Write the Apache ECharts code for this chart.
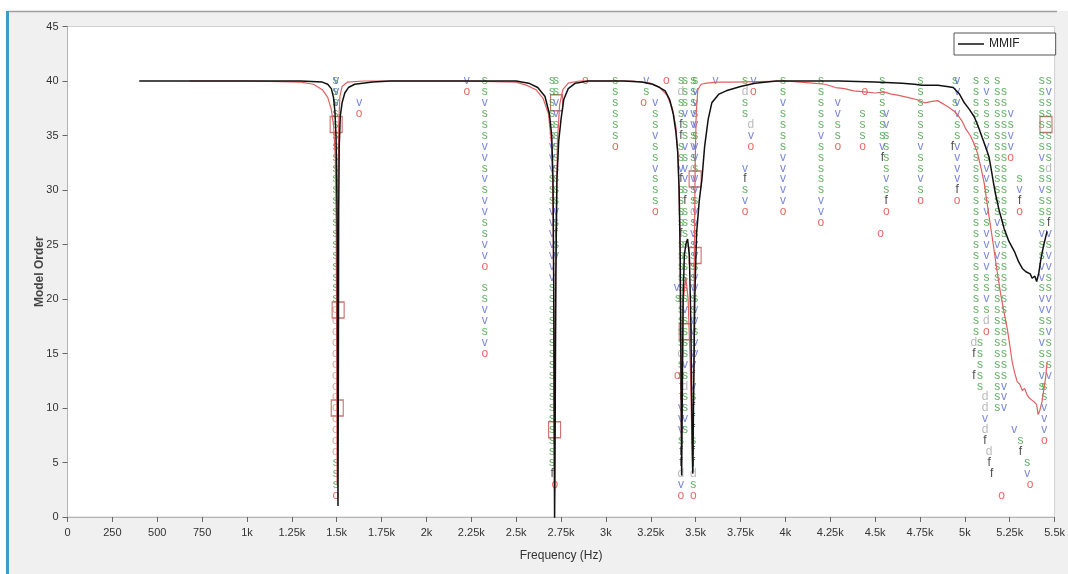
<!DOCTYPE html>
<html><head><meta charset="utf-8">
<script src="https://cdn.jsdelivr.net/npm/echarts@6/dist/echarts.min.js"></script>
<style>html,body{margin:0;padding:0;background:#fff}#c{width:1068px;height:574px}</style>
</head><body><div id="c"></div>
<script>
// ---------- data ----------
const FONT = "'Liberation Sans Narrow','Liberation Sans',sans-serif";

// MMIF curve (black) : [frequency Hz, model-order axis value]
const mmifCurve = [[400,40],[700,40],[1000,40],[1300,40],[1420,39.9],[1450,39.7],[1470,39.3],[1482,38.5],[1490,37.2],[1496,35],[1500,31],[1503,25],[1505,12],[1507,1],[1509,12],[1511,28],[1514,34],[1520,36.8],[1530,38],[1545,38.9],[1565,39.4],[1600,39.7],[1700,39.9],[1800,40],[2200,40],[2500,40],[2570,39.8],[2620,39.4],[2660,38.6],[2685,37],[2698,35],[2705,31],[2709,22],[2712,8],[2714,-0.3],[2717,8],[2721,22],[2727,31],[2737,34.5],[2750,36.5],[2765,38.3],[2790,39.3],[2830,39.8],[2900,40],[3100,40],[3200,39.9],[3260,39.7],[3300,39.4],[3330,39.1],[3355,38.3],[3375,37],[3390,35.3],[3400,33.5],[3408,30],[3414,24],[3419,12],[3422,3.8],[3425,10],[3430,20],[3437,24],[3445,25],[3455,25.5],[3465,24],[3473,18],[3480,8],[3484,4],[3488,10],[3495,20],[3505,26],[3520,29],[3535,31],[3550,34],[3570,36.5],[3590,38],[3630,38.8],[3670,39.1],[3750,39.5],[3830,39.8],[3950,40],[4300,40],[4500,39.9],[4650,39.8],[4720,39.7],[4760,39.6],[4850,39.6],[4900,39.5],[4935,39.4],[4970,38.8],[4997,38],[5025,37.4],[5053,36.7],[5075,35.8],[5097,34.8],[5115,34],[5135,33],[5150,31.6],[5160,30.6],[5170,29.7],[5190,28.2],[5205,27.3],[5218,26.5],[5245,25.3],[5275,24.4],[5300,23.4],[5320,22.8],[5340,22.5],[5364,22.3],[5375,21.9],[5390,22.1],[5400,21.6],[5412,22.4],[5425,23.8],[5440,25],[5458,26.2]];

// second indicator curve (red)
const redCurve = [[680,40],[1000,40],[1300,39.9],[1370,39.7],[1420,39.2],[1450,38.5],[1470,37.4],[1483,35.8],[1492,33],[1497,27],[1500,15],[1502,3],[1504,14],[1507,30],[1511,36],[1518,38.6],[1530,39.5],[1560,39.9],[1650,40],[2200,40],[2500,39.9],[2560,39.6],[2610,39.2],[2650,38.4],[2680,37],[2698,34],[2706,28],[2711,14],[2714,2],[2717,12],[2722,27],[2730,34.5],[2742,37.8],[2760,39.2],[2790,39.8],[2850,40],[3150,40],[3250,39.8],[3300,39.4],[3340,38.7],[3370,37.5],[3390,35.8],[3402,33],[3411,27],[3417,17],[3421,7],[3425,13],[3432,20],[3445,22],[3458,20],[3470,14],[3478,8],[3483,4],[3487,9],[3492,22],[3497,32],[3503,37],[3512,39.2],[3530,39.7],[3560,39.8],[3620,39.9],[3700,39.9],[4000,40],[4150,39.8],[4220,39.7],[4280,39.4],[4330,39.3],[4380,39.1],[4441,39],[4500,38.9],[4550,39],[4590,38.8],[4625,38.7],[4680,38.5],[4730,38.3],[4775,38.0],[4810,38.1],[4847,38.2],[4880,37.9],[4910,37.6],[4935,37.3],[4960,36.9],[4985,36.3],[5005,35.6],[5030,35],[5050,34.3],[5070,33.4],[5090,32],[5108,30.6],[5122,29],[5140,27],[5160,24.8],[5180,22.5],[5200,20.4],[5218,18.8],[5236,17.3],[5250,15.8],[5264,14.2],[5278,13.2],[5292,12.4],[5305,12.2],[5320,11.6],[5333,11.8],[5347,11.2],[5360,10.9],[5375,10.7],[5390,10.5],[5400,10.3],[5408,9.4],[5418,9.8],[5430,10.6],[5440,11.7],[5450,12.8],[5458,14.2]];

// stabilization columns: [frequency, top model order, symbols from top order downward ('.' = none)]
const stabColumns = [
  [1493,40,"sssssssssssssssssssss"],
  [1497,40,"vvv"],
  [1493,19,"qqqqqqqqqqqqqq"],
  [1495,5,"ssso"],
  [1625,38,"vo"],
  [2225,40,"vo"],
  [2325,40,"ssvsssvvsvsvvssvvo"],
  [2325,21,"ssvvsvo"],
  [2700,40,"ssssssvvvsssvvvvvvvsssssssssssssssssf"],
  [2722,40,"ssvvssssssssvsfsv"],
  [2716,3,"o"],
  [2886,40,"o"],
  [3052,40,"sssssso"],
  [3225,40,"vs"],
  [3210,38,"o"],
  [3275,38,"vssvssvssso"],
  [3337,40,"o"],
  [3418,40,"sdssffssvfssssfssssssssssdssffvvvsffdvo"],
  [3440,40,"sssvssvsvvsfsssssssssvssssvsdssvs"],
  [3487,40,"sssvvsvsdvssdsvssssvssvvsvvfvsfffsffdso"],
  [3498,40,"svvsvsvvsvvsvvsvvsvvsvvsvv"],
  [3395,21,"v"],
  [3402,20,"s"],
  [3398,13,"o"],
  [3610,40,"v"],
  [3775,40,"sdss"],
  [3808,36,"dvo"],
  [3822,40,"vo"],
  [3775,32,"vfsvo"],
  [3987,40,"ssvssssvvvvvo"],
  [4198,40,"sssssvsssssvvo"],
  [4292,38,"vvsso"],
  [4442,39,"o"],
  [4430,37,"ssso"],
  [4540,40,"ssssssvf"],
  [4562,37,"vvssssvsfo"],
  [4530,26,"o"],
  [4753,40,"ssssssvssvso"],
  [4945,40,"s.s"],
  [4957,40,"vvvvssvvvvfo"],
  [4930,34,"f"],
  [5062,40,"ssssssssssssssssssssssss"],
  [5120,40,"svssssvsvvssvsvvvvssvsdo"],
  [5180,40,"sssssssssssssvsvvssssssssssssss"],
  [5218,39,"sssssssssssssssssssssssssssvvv"],
  [5255,37,"vsvvo"],
  [5305,31,"svfo"],
  [5050,16,"df.f"],
  [5084,16,"sssss"],
  [5112,11,"ddvdf"],
  [5135,6,"df"],
  [5150,4,"f"],
  [5205,2,"o"],
  [5275,8,"v"],
  [5310,7,"sf"],
  [5347,5,"sv"],
  [5364,3,"o"],
  [5428,40,"sssssssvssvsssvssvvsvvssvssvs"],
  [5467,40,"svssssssdssssfvsvvssvvsvsssv"],
  [5443,12,"ssvvvo"]
];

// highlighted (boxed) poles: [frequency, model order]
const selectedPoles = [[1497,36],[1508,19],[1503,10],[2725,38],[2714,8],[3442,17],[3497,31],[3497,24],[5452,36]];

const symbolText  = {s:'s', v:'v', o:'o', d:'d', f:'f', q:'o'};
const symbolColor = {s:'#3a9a3a', v:'#5a6cd0', o:'#e2463f', d:'#a9a9a9', f:'#1c1c1c', q:'#cf9a86'};

// ---------- build ----------
const buckets = {};
stabColumns.forEach(([f, top, str]) => {
  for (let i = 0; i < str.length; i++) {
    const ch = str[i];
    if (ch === '.') continue;
    (buckets[ch] = buckets[ch] || []).push([f, top - i]);
  }
});
const letterSeries = Object.keys(buckets).map(k => ({
  type: 'scatter', name: 'sym_' + k, data: buckets[k], symbolSize: 1,
  itemStyle: { color: 'rgba(0,0,0,0)' }, silent: true,
  label: { show: true, position: 'inside', formatter: () => symbolText[k],
           color: symbolColor[k], fontSize: 12, fontFamily: FONT }
}));

const chart = echarts.init(document.getElementById('c'), null, { renderer: 'canvas' });
chart.setOption({
  animation: false,
  backgroundColor: '#f0f0f0',
  graphic: [
    { type: 'rect', shape: { x: 0, y: 0, width: 1068, height: 11 }, style: { fill: '#ffffff' }, silent: true },
    { type: 'rect', shape: { x: 0, y: 0, width: 6, height: 574 }, style: { fill: '#ffffff' }, silent: true },
    { type: 'line', shape: { x1: 8, y1: 11.5, x2: 1057, y2: 11.5 }, style: { stroke: '#a0a0a0', lineWidth: 1.5 }, silent: true },
    { type: 'line', shape: { x1: 7.5, y1: 11, x2: 7.5, y2: 574 }, style: { stroke: '#3d9cc4', lineWidth: 3 }, silent: true }
  ],
  grid: { left: 67.5, right: 10.5, top: 26.5, bottom: 57, show: true, backgroundColor: '#ffffff', borderColor: '#d0d0d0', borderWidth: 1 },
  legend: {
    data: [{ name: 'MMIF', icon: 'rect' }], left: 954, top: 33,
    padding: [5, 36, 5, 4], itemWidth: 26, itemHeight: 1.5,
    backgroundColor: '#ffffff', borderColor: '#555555', borderWidth: 1, borderRadius: 0,
    textStyle: { fontSize: 12, color: '#222', fontFamily: FONT }
  },
  xAxis: {
    type: 'value', min: 0, max: 5500, interval: 250,
    name: 'Frequency (Hz)', nameLocation: 'middle', nameGap: 33,
    nameTextStyle: { fontSize: 12, color: '#333', fontFamily: FONT },
    axisLine: { show: true, lineStyle: { color: '#b4b4b4' } },
    axisTick: { show: true, length: 5, lineStyle: { color: '#666' } },
    axisLabel: { fontSize: 11, color: '#333', margin: 10, fontFamily: FONT,
      formatter: v => v < 1000 ? String(v) : (v / 1000) + 'k' },
    splitLine: { show: false }
  },
  yAxis: {
    type: 'value', min: 0, max: 45, interval: 5,
    name: 'Model Order', nameLocation: 'middle', nameGap: 22, nameMoveOverlap: false,
    nameTextStyle: { fontSize: 12, color: '#444', fontWeight: 'bold', fontFamily: FONT },
    axisLine: { show: true, lineStyle: { color: '#b4b4b4' } },
    axisTick: { show: true, length: 5, lineStyle: { color: '#666' } },
    axisLabel: { fontSize: 11, color: '#333', margin: 9, fontFamily: FONT },
    splitLine: { show: false }
  },
  series: letterSeries.concat([
    { type: 'line', name: 'red', data: redCurve, showSymbol: false, symbol: 'none',
      lineStyle: { color: '#e06060', width: 1.2 }, itemStyle: { color: '#e06060' }, silent: true },
    { type: 'line', name: 'MMIF', data: mmifCurve, showSymbol: false, symbol: 'none',
      lineStyle: { color: '#111111', width: 1.5 }, itemStyle: { color: '#111111' }, silent: true },
    { type: 'scatter', name: 'boxes', data: selectedPoles, symbol: 'rect', symbolSize: [12, 16],
      itemStyle: { color: 'rgba(0,0,0,0)', borderColor: '#c0504d', borderWidth: 1.3 }, silent: true }
  ])
});
</script></body></html>
